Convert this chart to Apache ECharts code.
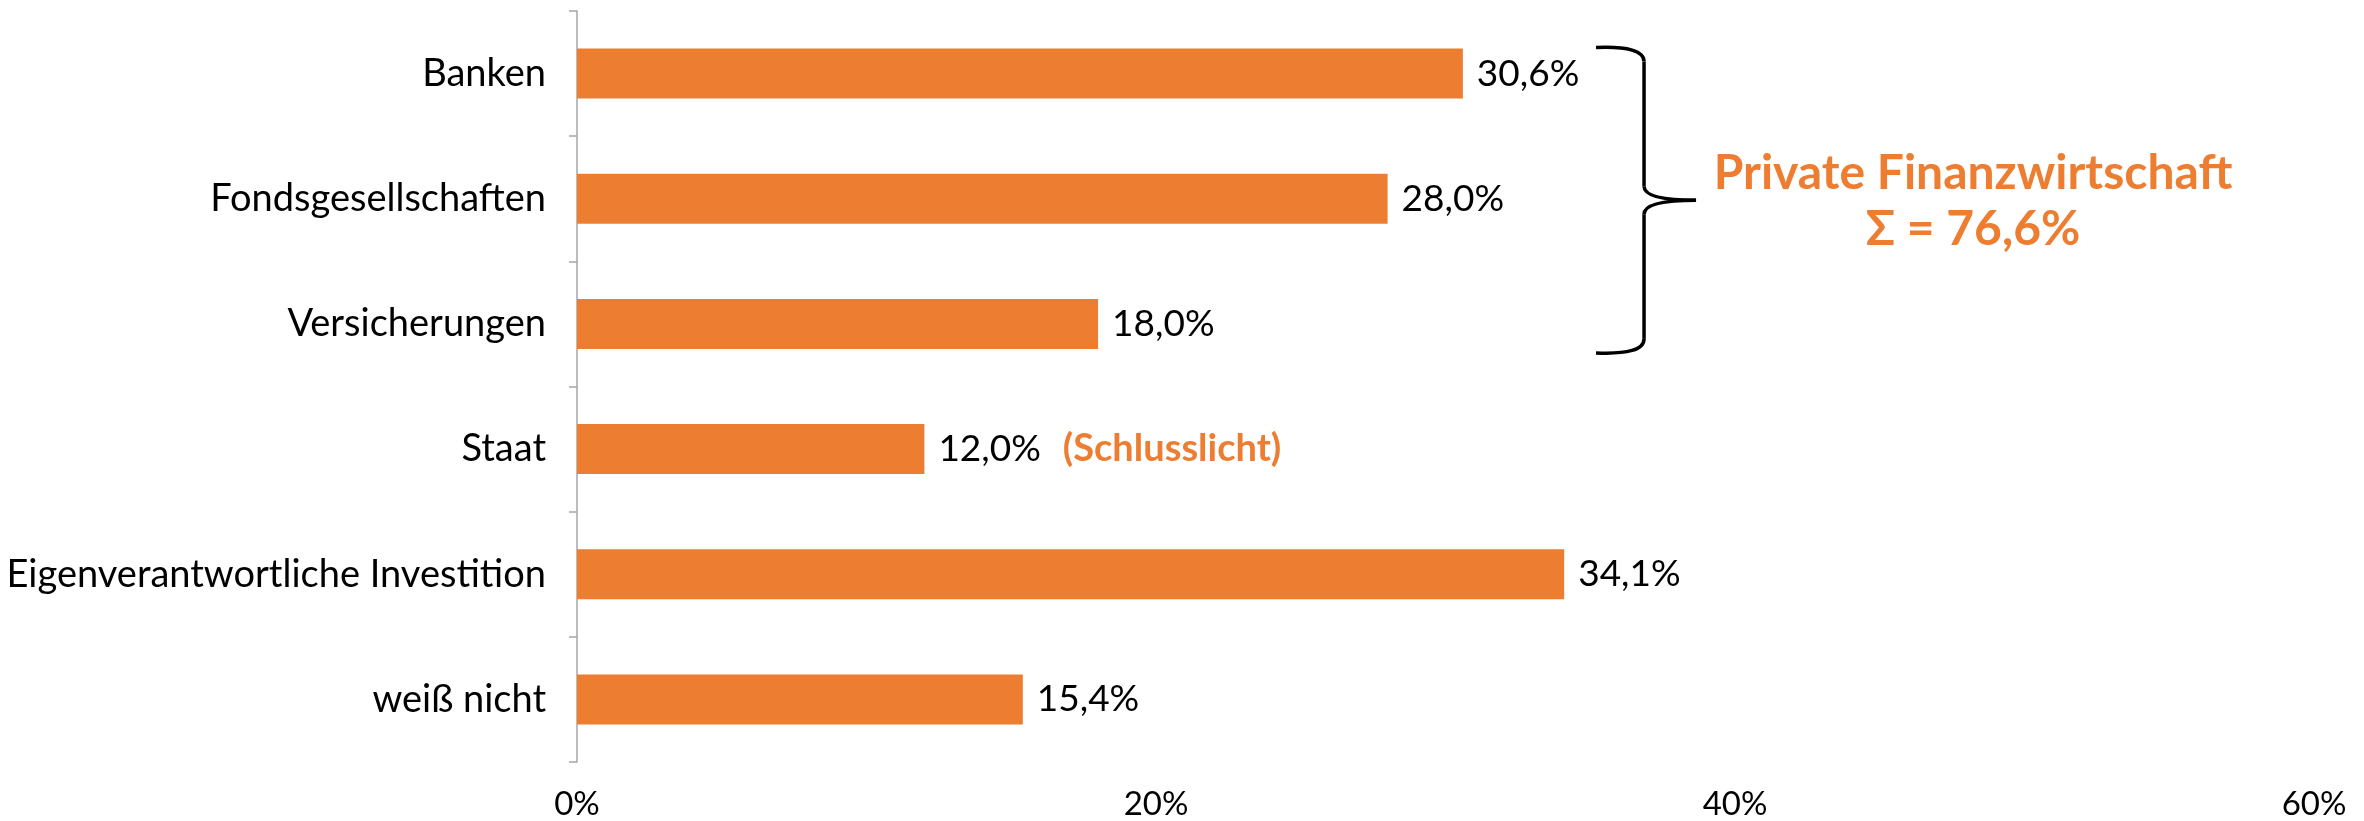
<!DOCTYPE html>
<html>
<head>
<meta charset="utf-8">
<script src="https://cdn.jsdelivr.net/npm/echarts@6/dist/echarts.min.js"></script>
<style>
  html, body { margin: 0; padding: 0; background: #fff; }
  #main { width: 2364px; height: 821px; }
</style>
</head>
<body>
<div id="main"></div>
<script>
  // Kategorien und Werte (Anteile in %)
  var categories = ['Banken', 'Fondsgesellschaften', 'Versicherungen', 'Staat', 'Eigenverantwortliche Investition', 'weiß nicht'];
  var values = [30.6, 28.0, 18.0, 12.0, 34.1, 15.4];
  var xTicks = [0, 20, 40, 60];
  var privateGroup = [0, 1, 2];   // Banken, Fonds, Versicherungen
  var lastIndex = 3;              // Staat = Schlusslicht

  var orange = '#ED7D31';
  var font = 'Lato';

  function fmt(v) {
    return v.toFixed(1).replace('.', ',') + '%';
  }

  var sum = 0;
  privateGroup.forEach(function (i) { sum += values[i]; });

  var myChart = echarts.init(document.getElementById('main'));

  var option = {
    animation: false,
    textStyle: { fontFamily: font },
    grid: { left: 577, right: 50, top: 11, bottom: 56, containLabel: false },
    xAxis: {
      type: 'value',
      min: xTicks[0],
      max: xTicks[xTicks.length - 1],
      interval: 20,
      axisLine: { show: false },
      axisTick: { show: false },
      splitLine: { show: false },
      axisLabel: {
        margin: 26,
        fontSize: 33,
        color: '#000',
        fontFamily: font,
        formatter: '{value}%'
      }
    },
    yAxis: {
      type: 'category',
      inverse: true,
      data: categories,
      axisLine: { show: true, lineStyle: { color: '#A6A6A6', width: 1.5 } },
      axisTick: { show: true, length: 8, lineStyle: { color: '#A6A6A6', width: 1.5 } },
      axisLabel: { margin: 31, fontSize: 38, color: '#000', fontFamily: font }
    },
    series: [{
      type: 'bar',
      data: values,
      barCategoryGap: '60%',
      itemStyle: { color: orange },
      label: {
        show: true,
        position: 'right',
        distance: 14,
        fontSize: 37,
        color: '#000',
        fontFamily: font,
        formatter: function (p) {
          if (p.dataIndex === lastIndex) return fmt(p.value) + '{s|(Schlusslicht)}';
          return fmt(p.value);
        },
        rich: {
          s: { color: orange, fontWeight: 'bold', fontSize: 38, fontFamily: font, padding: [0, 0, 0, 22] }
        }
      }
    }]
  };
  myChart.setOption(option);

  // geschweifte Klammer + Beschriftung rechts neben den ersten drei Balken
  var topY = myChart.convertToPixel({ yAxisIndex: 0 }, categories[privateGroup[0]]) - 26;
  var botY = myChart.convertToPixel({ yAxisIndex: 0 }, categories[privateGroup[privateGroup.length - 1]]) + 29;
  var x0 = myChart.convertToPixel({ xAxisIndex: 0 }, 35.2);
  var midY = (topY + botY) / 2;
  var xl = x0 + 48;     // senkrechter Strich
  var xp = x0 + 100;    // Spitze
  var r = 14;
  var braceStyle = { stroke: '#000', lineWidth: 3.5, fill: null };

  function curve(x1, y1, cx, cy, x2, y2) {
    return { type: 'bezierCurve', shape: { x1: x1, y1: y1, cpx1: cx, cpy1: cy, x2: x2, y2: y2 }, style: braceStyle };
  }
  function line(x1, y1, x2, y2) {
    return { type: 'line', shape: { x1: x1, y1: y1, x2: x2, y2: y2 }, style: braceStyle };
  }

  myChart.setOption({
    graphic: [
      curve(x0, topY, xl, topY - 2, xl, topY + r),
      line(xl, topY + r, xl, midY - r),
      curve(xl, midY - r, xl, midY, xp, midY),
      curve(xp, midY, xl, midY, xl, midY + r),
      line(xl, midY + r, xl, botY - r),
      curve(xl, botY - r, xl, botY + 2, x0, botY),
      {
        type: 'text',
        x: 1973,
        y: 146,
        style: {
          text: 'Private Finanzwirtschaft\nΣ = ' + fmt(sum),
          fill: orange,
          font: 'bold 48px Lato',
          lineHeight: 56,
          align: 'center',
          verticalAlign: 'top'
        }
      }
    ]
  });
</script>
</body>
</html>
